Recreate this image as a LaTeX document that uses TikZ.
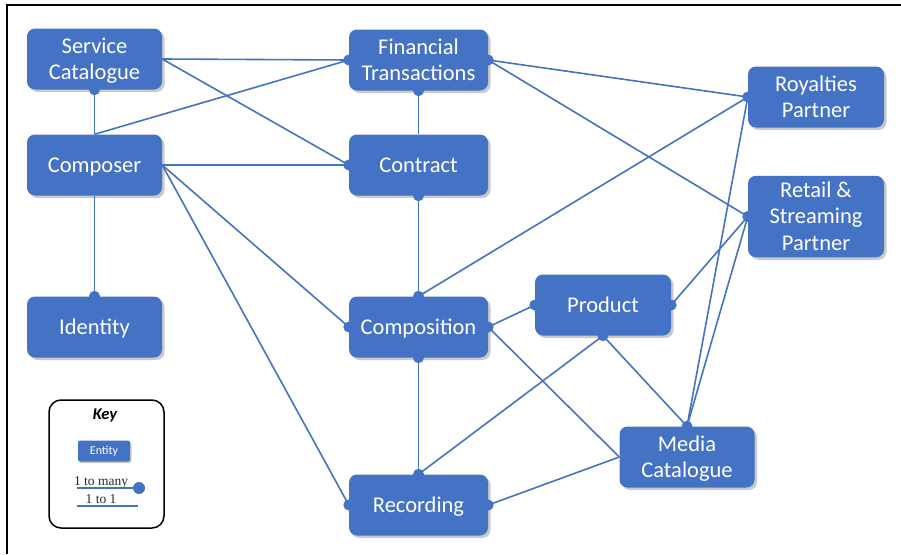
\documentclass[tikz,border=0pt]{standalone}
\usepackage{fontspec}
\setmainfont{Carlito}
\newfontfamily\keyserif{Liberation Serif}
\usetikzlibrary{shadows}
\definecolor{eblue}{HTML}{4472C4}
\newcommand\etext[1]{\raisebox{-2pt}[\height][\depth]{\begin{tabular}{@{}c@{}}#1\end{tabular}}}
\begin{document}
\begin{tikzpicture}[x=1pt,y=-1pt,
  entity/.style={rounded corners=8pt, fill=eblue, text=white, minimum width=135pt, minimum height=61pt,
    inner sep=1pt, font=\fontsize{22.5}{26.5}\selectfont,
    drop shadow={shadow xshift=2.5pt, shadow yshift=-2.5pt, fill=black!35, opacity=0.6}},
  link/.style={draw=eblue, line width=1.6pt},
  ]
\useasboundingbox (0,0) rectangle (901,554);
\draw[line width=2pt] (7,554) -- (7,5) -- (901,5);

\node[entity] (sc) at (94.5,59) {\etext{Service\\Catalogue}};
\node[entity, minimum width=139pt] (ft) at (418.5,60) {\etext{Financial\\Transactions}};
\node[entity] (cp) at (94.5,165) {\etext{Composer}};
\node[entity, minimum width=139pt] (ct) at (418.5,165) {\etext{Contract}};
\node[entity] (id) at (94.5,327) {\etext{Identity}};
\node[entity, minimum width=139pt] (cn) at (418.5,327) {\etext{Composition}};
\node[entity, minimum width=139pt] (rc) at (418.5,505) {\etext{Recording}};
\node[entity, minimum width=136pt] (pr) at (603,305) {\etext{Product}};
\node[entity] (mc) at (687,457) {\etext{Media\\Catalogue}};
\node[entity, minimum width=136pt] (rp) at (816,97) {\etext{Royalties\\Partner}};
\node[entity, minimum width=136pt, minimum height=81pt] (rs) at (816,216.5) {\etext{Retail \&\\Streaming\\Partner}};

\draw[link] (sc.south) -- (cp.north);
\draw[link] (cp.north) -- (ft.west);
\draw[link] (sc.east) -- (ft.west);
\draw[link] (sc.east) -- (ct.west);
\draw[link] (cp.east) -- (ct.west);
\draw[link] (cp.east) -- (cn.west);
\draw[link] (cp.east) -- (rc.west);
\draw[link] (cp.south) -- (id.north);
\draw[link] (ft.south) -- (ct.north);
\draw[link] (ft.east) -- (rp.west);
\draw[link] (ft.east) -- (rs.west);
\draw[link] (ct.south) -- (cn.north);
\draw[link] (cn.north) -- (rp.west);
\draw[link] (cn.south) -- (rc.north);
\draw[link] (cn.east) -- (pr.west);
\draw[link] (cn.east) -- (mc.west);
\draw[link] (rc.east) -- (mc.west);
\draw[link] (pr.south) -- (rc.north);
\draw[link] (pr.south) -- (mc.north);
\draw[link] (pr.east) -- (rs.west);
\draw[link] (mc.north) -- (rp.west);
\draw[link] (mc.north) -- (rs.west);

\foreach \p in {sc.south, ft.west, ct.west, cn.west, rc.west, id.north, ft.south, ft.east,
  rp.west, rs.west, ct.south, cn.north, cn.south, rc.north, cn.east, pr.west, rc.east,
  pr.south, mc.north, pr.east}
  \fill[eblue] (\p) circle (5.5pt);

% Key
\draw[black, line width=1.5pt, rounded corners=12pt] (49,400) rectangle (164,528);
\node[font=\fontsize{16.5}{18}\selectfont\bfseries\itshape] (key) at (105,415) {Key};
\node[rounded corners=2pt, fill=eblue, text=white, font=\fontsize{12}{14}\selectfont,
  minimum width=52pt, minimum height=21pt, inner sep=0pt,
  drop shadow={shadow xshift=1.5pt, shadow yshift=-1.5pt, fill=black!35, opacity=0.6}] (ent) at (104,451) {Entity};
\node[font=\keyserif\fontsize{13.5}{15}\selectfont, text=black!85, inner sep=0pt] (om) at (101,482) {1 to many};
\coordinate (oma) at (77,488);
\coordinate (omb) at (139,488);
\draw[link] (oma) -- (omb);
\fill[eblue] (omb) circle (6pt);
\node[font=\keyserif\fontsize{13.5}{15}\selectfont, text=black!85, inner sep=0pt] (oo) at (101,499.5) {1 to 1};
\coordinate (ooa) at (77,506);
\coordinate (oob) at (138,506);
\draw[link] (ooa) -- (oob);
\end{tikzpicture}
\end{document}
